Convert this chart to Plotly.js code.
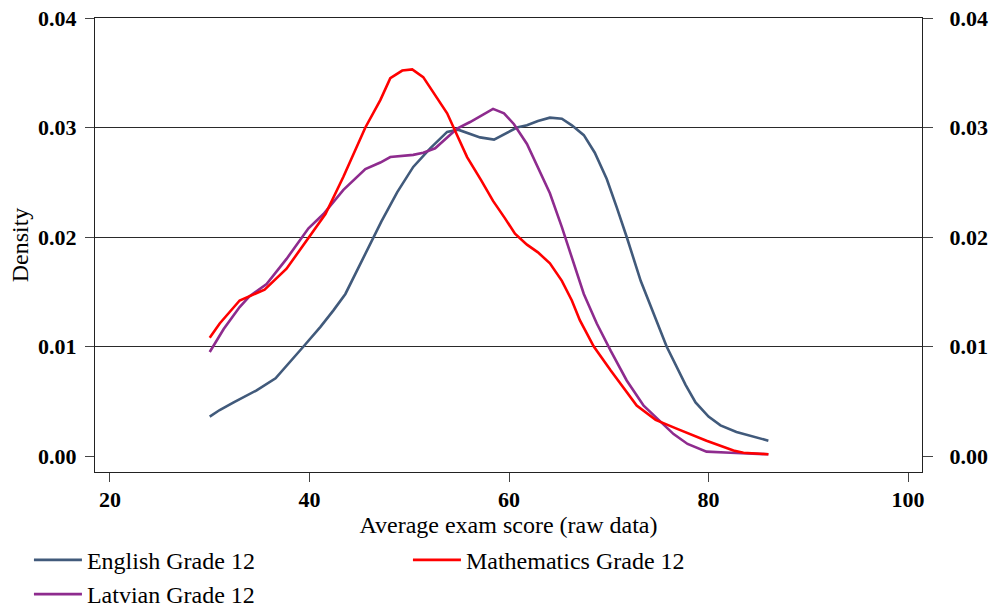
<!DOCTYPE html>
<html>
<head>
<meta charset="utf-8">
<script src="https://cdn.plot.ly/plotly-3.0.1.min.js"></script>
<style>
  html, body { margin: 0; padding: 0; background: #fff; }
  #chart { width: 998px; height: 607px; }
</style>
</head>
<body>
<div id="chart"></div>
<script>
// Kernel density estimates of average exam scores, Grade 12
const englishX = [30, 31, 32.4, 34.7, 36.6, 38.1, 39.4, 41.1, 42.4, 43.6, 44.7, 46.1, 47.2, 48.8, 50.4, 52.1, 53.8, 54.9, 56.1, 57.1, 58.5, 59.6, 60.8, 61.8, 62.9, 64.1, 65.3, 66.3, 67.5, 68.6, 69.8, 70.8, 71.8, 73.2, 74.5, 75.8, 77.7, 78.7, 80, 81.2, 82.8, 86];
const englishY = [0.0036, 0.0042, 0.0049, 0.0060, 0.0071, 0.0086, 0.0100, 0.0118, 0.0133, 0.0148, 0.0168, 0.0194, 0.0214, 0.0241, 0.0264, 0.0281, 0.0296, 0.0298, 0.0294, 0.0291, 0.0289, 0.0294, 0.0300, 0.0302, 0.0306, 0.0309, 0.0308, 0.0302, 0.0293, 0.0277, 0.0253, 0.0227, 0.0200, 0.0160, 0.0130, 0.0100, 0.0065, 0.0049, 0.0036, 0.0028, 0.0022, 0.0014];

const latvianX = [30, 31.4, 33, 34, 35.7, 37.7, 39.9, 41.4, 43.4, 45.6, 47.1, 48.1, 50.4, 51.4, 52.6, 53.8, 54.8, 56.1, 57.1, 58.4, 59.5, 60.5, 61.8, 62.9, 64.1, 65.3, 66.3, 67.5, 68.8, 70.2, 71.8, 73.5, 75, 76.5, 77.9, 79.8, 82.2, 86];
const latvianY = [0.0095, 0.0116, 0.0136, 0.0146, 0.0157, 0.0180, 0.0208, 0.0221, 0.0243, 0.0262, 0.0268, 0.0273, 0.0275, 0.0277, 0.0281, 0.0291, 0.0299, 0.0305, 0.0310, 0.0317, 0.0313, 0.0303, 0.0285, 0.0264, 0.0240, 0.0209, 0.0182, 0.0148, 0.0121, 0.0096, 0.0069, 0.0046, 0.0033, 0.0020, 0.0011, 0.0004, 0.0003, 0.00016];

const mathX = [30, 31, 33, 34, 35.5, 37.7, 39.7, 41.6, 43.4, 45.6, 47.1, 48.1, 49.3, 50.3, 51.4, 52.4, 53.8, 54.8, 55.8, 57.2, 58.4, 59.6, 60.6, 61.8, 62.9, 64.1, 65.3, 66.3, 67.1, 68.5, 70.2, 72.8, 74.7, 76.8, 79.8, 82.5, 83.5, 86];
const mathY = [0.0108, 0.0121, 0.0142, 0.0146, 0.0152, 0.0171, 0.0197, 0.0221, 0.0255, 0.0300, 0.0325, 0.0345, 0.0352, 0.0353, 0.0346, 0.0332, 0.0313, 0.0293, 0.0273, 0.0252, 0.0233, 0.0217, 0.0203, 0.0193, 0.0186, 0.0176, 0.0160, 0.0142, 0.0124, 0.0100, 0.0078, 0.0046, 0.0033, 0.0025, 0.0014, 0.0005, 0.0003, 0.00016];

const xTicks = [20, 40, 60, 80, 100];
const yTicks = [0, 0.01, 0.02, 0.03, 0.04];
const yTickText = ['0.00', '0.01', '0.02', '0.03', '0.04'];
const yGrid = [0.01, 0.02, 0.03, 0.04];

const FONT = 'Liberation Serif, Times New Roman, serif';
const X_RANGE = [18.5, 101.4];
const Y_RANGE = [-0.00146, 0.04];

const line = (color) => ({ color: color, width: 2.6, shape: 'linear' });

// empty helper traces so the right-hand axis and the grid axis get drawn
const axisHolder = (yref) => ({
  x: [null], y: [null], yaxis: yref, type: 'scatter', mode: 'lines',
  showlegend: false, hoverinfo: 'skip'
});

const traces = [
  axisHolder('y3'),
  axisHolder('y2'),
  { x: englishX, y: englishY, name: 'English Grade 12', type: 'scatter', mode: 'lines',
    line: line('#415a7b'), legendrank: 1 },
  { x: latvianX, y: latvianY, name: 'Latvian Grade 12', type: 'scatter', mode: 'lines',
    line: line('#8e2b8e'), legendrank: 3 },
  { x: mathX, y: mathY, name: 'Mathematics Grade 12', type: 'scatter', mode: 'lines',
    line: line('#ff0000'), legendrank: 2 }
];

const tickFont = { family: FONT, size: 22, color: '#000', weight: 'bold' };

const layout = {
  width: 998,
  height: 607,
  paper_bgcolor: '#ffffff',
  plot_bgcolor: '#ffffff',
  margin: { l: 95, r: 76, t: 17.5, b: 135.3, pad: 0 },
  font: { family: FONT, color: '#000' },
  showlegend: true,
  legend: {
    orientation: 'h',
    xref: 'container', yref: 'container',
    x: 0.029, y: 0.114, xanchor: 'left', yanchor: 'top',
    font: { family: FONT, size: 24, color: '#000' },
    entrywidth: 316,
    itemwidth: 48,
    traceorder: 'normal',
    bgcolor: 'rgba(0,0,0,0)'
  },
  xaxis: {
    range: X_RANGE,
    tickvals: xTicks,
    ticktext: xTicks.map(String),
    ticks: 'outside', ticklen: 9, tickwidth: 1, tickcolor: '#444',
    tickfont: tickFont,
    ticklabelstandoff: -1,
    showline: true, linecolor: '#222', linewidth: 1, mirror: true,
    showgrid: false, zeroline: false,
    title: { text: 'Average exam score (raw data)', font: { family: FONT, size: 24, color: '#000' }, standoff: 5 }
  },
  yaxis: {
    range: Y_RANGE,
    tickvals: yTicks,
    ticktext: yTickText,
    ticks: 'outside', ticklen: 9, tickwidth: 1, tickcolor: '#444',
    tickfont: tickFont,
    ticklabelstandoff: 4,
    showline: true, linecolor: '#222', linewidth: 1,
    showgrid: false, zeroline: false,
    title: { text: 'Density', font: { family: FONT, size: 24, color: '#000' }, standoff: 2 }
  },
  yaxis2: {
    range: Y_RANGE,
    overlaying: 'y', side: 'right', anchor: 'x',
    tickvals: yTicks,
    ticktext: yTickText,
    ticks: 'outside', ticklen: 10, tickwidth: 1, tickcolor: '#444',
    tickfont: tickFont,
    ticklabelstandoff: 12,
    showline: true, linecolor: '#222', linewidth: 1,
    showgrid: false, zeroline: false
  },
  yaxis3: {
    range: Y_RANGE,
    overlaying: 'y', anchor: 'x',
    tickvals: yGrid,
    showticklabels: false, ticks: '',
    showline: false, zeroline: false,
    showgrid: true, gridcolor: '#2a2a2a', gridwidth: 1
  }
};

Plotly.newPlot('chart', traces, layout, { staticPlot: true, displayModeBar: false });
</script>
</body>
</html>
